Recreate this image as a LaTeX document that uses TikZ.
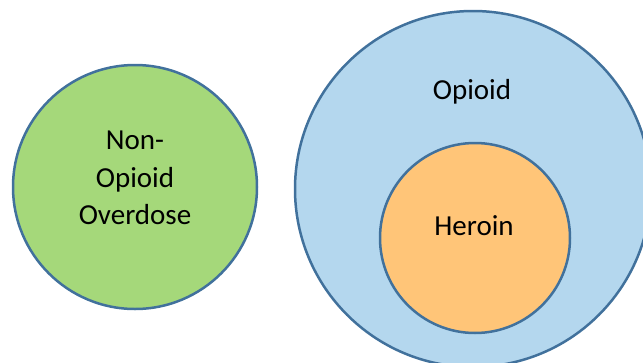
\documentclass[tikz,border=0pt]{standalone}
\usepackage{fontspec}
\setmainfont{Carlito}
\definecolor{edge}{HTML}{41719C}
\definecolor{gfill}{HTML}{A5D87A}
\definecolor{bfill}{HTML}{B4D7EE}
\definecolor{ofill}{HTML}{FFC578}
\begin{document}
\begin{tikzpicture}[x=1pt,y=-1pt,
  setc/.style={circle, draw=edge, line width=2.5pt, inner sep=0pt},
  lbl/.style={align=center, inner sep=0pt, font=\fontsize{29}{37.5}\selectfont}]
\useasboundingbox (0,0) rectangle (643,362);
\clip (0,0) rectangle (643,362);
\node[setc, fill=gfill, minimum size=244pt] (nonopioid) at (135,187) {};
\node[setc, fill=bfill, minimum size=356pt] (opioid) at (473,189) {};
\node[setc, fill=ofill, minimum size=190pt] (heroin) at (475,238) {};
\node[lbl] (nonopioidlabel) at (135,178) {Non-\\Opioid\\Overdose};
\node[lbl] (opioidlabel) at (472,92) {Opioid};
\node[lbl] (heroinlabel) at (474,226) {Heroin};
\end{tikzpicture}
\end{document}
